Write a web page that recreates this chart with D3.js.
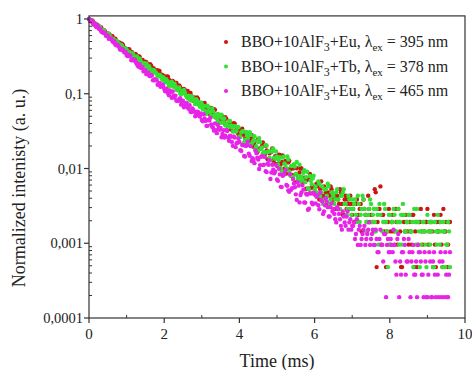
<!DOCTYPE html>
<html><head><meta charset="utf-8">
<script src="https://cdn.jsdelivr.net/npm/d3@7/dist/d3.min.js"></script>
<style>body{margin:0;background:#fff}svg{display:block}text{font-family:"Liberation Serif","Times New Roman",serif}</style>
</head><body>
<svg id="chart" width="472" height="370"></svg>
<script>
// ---- data: normalized intensity sampled every timeStepMs from t = 0 (null = zero counts) ----
const timeStepMs = 0.025;
const eu395 = [
1.000,0.959,0.935,0.964,0.940,0.895,0.868,0.817,0.809,0.832,0.807,0.769,0.759,0.772,0.714,0.689,0.708,0.686,0.640,0.617,0.637,0.634,0.615,0.586,0.569,0.589,0.536,0.525,0.543,0.518,0.498,0.472,0.485,0.476,0.449,0.468,0.452,0.421,0.403,0.394,0.399,
0.379,0.393,0.392,0.353,0.361,0.356,0.322,0.319,0.340,0.335,0.310,0.305,0.319,0.311,0.277,0.277,0.283,0.259,0.248,0.269,0.265,0.249,0.242,0.232,0.249,0.240,0.216,0.218,0.218,0.202,0.195,0.206,0.203,0.204,0.202,0.182,0.177,0.179,0.165,0.172,
0.160,0.154,0.171,0.169,0.154,0.148,0.133,0.133,0.148,0.144,0.132,0.132,0.140,0.1215,0.116,0.129,0.122,0.1066,0.102,0.114,0.1156,0.1123,0.103,0.0991,0.109,0.0915,0.0908,0.1026,0.0935,0.0880,0.0807,0.0891,0.0877,0.0786,0.0893,0.0849,0.0748,0.0689,0.0688,0.0731,
0.0668,0.0744,0.0755,0.0612,0.0661,0.0665,0.0546,0.0540,0.0645,0.0645,0.0556,0.0546,0.0619,0.0609,0.0481,0.0488,0.0527,0.0442,0.0416,0.0514,0.0507,0.0453,0.0437,0.0406,0.0487,0.0465,0.0378,0.0394,0.0403,0.0347,0.0332,0.0387,0.0381,0.0403,0.0399,0.0323,0.0315,0.0331,0.0284,0.0318,
0.0276,0.0328,0.0340,0.0284,0.0284,0.0250,0.0216,0.0301,0.0286,0.0207,0.0233,0.0255,0.0282,0.0260,0.0195,0.0207,0.0231,0.0182,0.0164,0.0248,0.0227,0.0186,0.0185,0.0201,0.0223,0.0160,0.0155,0.0201,0.0175,0.0133,0.0133,0.0160,0.0168,0.0166,0.0185,0.0127,0.0131,0.0146,0.0115,0.0109,
0.0115,0.0153,0.0152,0.0115,0.0122,0.0149,0.00867,0.00995,0.0126,0.00854,0.00982,0.0121,0.0127,0.00978,0.00800,0.00817,0.0100,0.0112,0.00652,0.00838,0.0101,0.00680,0.00783,0.00883,0.0101,0.00999,0.00638,0.00668,0.00755,0.00735,0.00536,0.00705,0.00736,0.00541,0.00843,0.00785,0.00548,0.00571,0.00466,0.00451,
0.0048,0.00624,0.00576,0.00432,0.00384,0.00528,0.00672,0.00384,0.00432,0.00576,0.00528,0.0048,0.00336,0.00336,0.0048,0.00432,0.00576,0.00528,0.00384,0.00384,
0.00432,0.00288,0.00288,0.00432,0.00384,0.00336,0.00528,0.0048,0.00336,0.0024,0.0024,0.00384,0.00432,0.00288,0.00384,0.00336,0.00288,0.00432,0.00336,0.0024,
0.00288,0.00192,0.00192,0.00336,0.00384,0.0024,0.0024,0.00288,0.00336,0.00144,0.00144,0.00384,0.00288,0.0024,0.0024,0.00192,0.00432,0.00288,0.00192,0.0024,
0.0024,0.00192,0.00144,0.00528,0.0048,0.00048,0.00192,0.00288,0.00288,0.00576,0.00096,0.0024,0.0024,0.00144,0.00192,0.00048,0.00144,0.00192,0.00288,0.00096,
0.00144,0.00192,0.0024,0.00144,0.00096,0.00288,0.00192,0.00096,0.00288,0.00192,0.00144,0.00048,0.00048,0.0024,0.00192,0.00144,0.0024,0.00192,0.00144,0.00096,
0.00192,0.00144,0.00096,0.0024,0.0024,0.00048,0.00144,0.00192,0.00048,0.00096,0.00192,0.00192,0.00288,0.00144,0.00096,null,0.00144,0.00192,0.00192,0.00288,
0.00096,0.00144,0.00192,0.00192,0.00144,0.00048,0.0024,0.00096,0.00048,0.00192,0.00144,0.00144,0.00192,0.0024,0.00096,0.00048,0.00288,0.00144,0.00144,0.00192,0.00048,0.00096,0.00192,0.00192
];
const tb378 = [
1.000,0.950,0.973,0.943,0.898,0.846,0.844,0.868,0.853,0.801,0.780,0.799,0.759,0.714,0.701,0.702,0.698,0.639,0.625,0.643,0.619,0.630,0.598,0.566,0.548,0.529,0.539,0.511,0.493,0.512,0.496,0.475,0.458,0.432,0.453,0.439,0.413,0.405,0.388,0.404,0.388,
0.356,0.363,0.363,0.338,0.317,0.348,0.339,0.316,0.308,0.292,0.316,0.297,0.274,0.294,0.275,0.261,0.245,0.257,0.255,0.245,0.254,0.224,0.222,0.234,0.207,0.211,0.202,0.194,0.208,0.200,0.191,0.185,0.170,0.173,0.179,0.176,0.163,0.154,0.167,0.158,
0.143,0.157,0.150,0.139,0.126,0.129,0.143,0.145,0.128,0.124,0.136,0.126,0.113,0.1115,0.117,0.121,0.101,0.0983,0.110,0.1045,0.112,0.1041,0.0944,0.0904,0.0870,0.0943,0.0863,0.0811,0.0929,0.0903,0.0838,0.0798,0.0726,0.0848,0.0806,0.0723,0.0720,0.0669,0.0767,0.0731,
0.0619,0.0683,0.0681,0.0587,0.0538,0.0694,0.0658,0.0581,0.0569,0.0507,0.0634,0.0582,0.0494,0.0522,0.0527,0.0474,0.0436,0.0530,0.0501,0.0408,0.0526,0.0463,0.0416,0.0466,0.0377,0.0393,0.0378,0.0357,0.0428,0.0434,0.0376,0.0353,0.0311,0.0369,0.0368,0.0313,0.0318,0.0359,0.0356,0.0269,
0.0264,0.0303,0.0312,0.0316,0.0222,0.0242,0.0308,0.0280,0.0252,0.0210,0.0305,0.0281,0.0212,0.0224,0.0239,0.0270,0.0182,0.0198,0.0231,0.0175,0.0255,0.0225,0.0182,0.0191,0.0159,0.0165,0.0164,0.0207,0.0202,0.0166,0.0169,0.0140,0.0129,0.0169,0.0171,0.0184,0.0140,0.0135,0.0169,0.0144,
0.0113,0.0129,0.0142,0.0102,0.00925,0.0140,0.0144,0.0117,0.0112,0.0101,0.0145,0.0132,0.00914,0.00812,0.0108,0.0109,0.00771,0.0113,0.0106,0.00849,0.0122,0.00730,0.00794,0.0112,0.00676,0.00774,0.00711,0.00877,0.00949,0.00657,0.00762,0.00904,0.00542,0.00528,0.00793,0.00687,0.00617,0.00737,0.00800,0.00522,
0.00576,0.0048,0.00432,0.00672,0.00624,0.00432,0.0048,0.00576,0.00336,0.00384,0.00528,0.00528,0.00432,0.00624,0.00576,0.00336,0.00384,0.0048,0.0048,0.00432,
0.00336,0.00384,0.0048,0.00528,0.00384,0.00288,0.00288,0.00432,0.00432,0.0048,0.00528,0.00336,0.00336,0.0024,0.00288,0.00432,0.00384,0.00288,0.0024,0.00384,
0.00288,0.00336,0.00384,0.0024,0.00192,0.00432,0.00336,0.00192,0.0024,0.00288,0.00432,0.00384,0.00288,0.0024,0.00192,0.00144,0.0024,0.00288,0.00384,0.00336,
0.00192,0.0024,0.00288,0.00192,0.00144,0.00288,0.0024,0.00096,0.00336,0.0024,0.00096,0.00144,0.00192,0.00336,0.00288,0.00192,0.00144,0.00048,0.0024,0.0024,
0.00096,0.00192,0.00192,0.00288,0.0024,0.00144,0.00144,0.00192,0.00288,0.00096,0.00192,0.0024,0.00096,0.00336,0.0024,0.00144,0.00144,0.00192,0.00192,0.0024,
0.0024,0.00144,0.00144,0.00192,0.00048,0.00288,0.00192,0.00096,0.00288,0.00192,0.00144,0.00048,0.00096,0.00144,0.00192,0.00192,0.00144,0.00096,0.00048,0.0024,
0.00144,0.00192,0.00096,0.00144,0.00192,0.00048,0.00048,0.00192,0.00144,0.00096,0.0024,0.00144,0.00096,0.00192,0.00144,0.00048,0.00192,0.00144,0.00048,0.00096,0.00096,0.00192,0.00144,0.00048
];
const eu465 = [
1.000,0.951,0.961,0.930,0.882,0.842,0.874,0.844,0.778,0.821,0.766,0.732,0.736,0.681,0.670,0.654,0.656,0.652,0.595,0.601,0.596,0.544,0.548,0.549,0.539,0.504,0.488,0.500,0.456,0.444,0.454,0.438,0.421,0.391,0.391,0.399,0.388,0.366,0.357,0.363,0.330,
0.319,0.330,0.317,0.326,0.281,0.283,0.289,0.278,0.286,0.263,0.248,0.237,0.229,0.249,0.222,0.221,0.227,0.199,0.206,0.206,0.183,0.190,0.191,0.175,0.172,0.178,0.175,0.152,0.151,0.156,0.152,0.151,0.132,0.134,0.140,0.124,0.126,0.133,0.128,0.116,
0.108,0.117,0.112,0.102,0.0957,0.111,0.105,0.0885,0.1076,0.0948,0.0887,0.0945,0.0809,0.0806,0.0802,0.0846,0.0869,0.0715,0.0776,0.0806,0.0661,0.0702,0.0743,0.0752,0.0655,0.0629,0.0703,0.0576,0.0571,0.0638,0.0607,0.0573,0.0499,0.0520,0.0574,0.0569,0.0506,0.0496,0.0543,0.0445,
0.0428,0.0531,0.0467,0.0433,0.0372,0.0372,0.0446,0.0440,0.0478,0.0389,0.0361,0.0350,0.0321,0.0401,0.0326,0.0297,0.0383,0.0346,0.0329,0.0348,0.0262,0.0289,0.0326,0.0260,0.0275,0.0328,0.0317,0.0259,0.0235,0.0274,0.0266,0.0227,0.0201,0.0269,0.0259,0.0193,0.0218,0.0221,0.0252,0.0226,
0.0176,0.0172,0.0207,0.0205,0.0147,0.0145,0.0200,0.0207,0.0229,0.0158,0.0148,0.0199,0.0126,0.0137,0.0131,0.0118,0.0174,0.0161,0.0139,0.0132,0.00984,0.0111,0.0143,0.0147,0.0111,0.0112,0.0143,0.00919,0.00895,0.0116,0.0112,0.0129,0.00724,0.00885,0.0112,0.00962,0.00865,0.00914,0.0111,0.00714,
0.00684,0.00992,0.00834,0.00568,0.00564,0.00800,0.00817,0.00843,0.00959,0.00602,0.00586,0.00507,0.00488,0.00838,0.00518,0.00545,0.00723,0.00631,0.00562,0.00451,0.00380,0.00657,0.00590,0.00352,0.00443,0.00479,0.00598,0.00521,0.00352,0.00349,0.00460,0.00447,0.00281,0.00290,0.00467,0.00464,0.00350,0.00332,0.00473,0.00453,
0.00342,0.00418,0.00437,0.00323,0.00285,0.00475,0.0038,0.00361,0.00247,0.00266,0.00323,0.00399,0.00361,0.00304,0.00228,0.00228,0.00304,0.00342,0.00266,0.00285,
0.00247,0.00209,0.0019,0.00304,0.00285,0.00247,0.00209,0.00171,0.00152,0.00266,0.00228,0.0019,0.00171,0.00228,0.00266,0.00152,0.0019,0.00209,0.00152,0.00171,
0.00171,0.0019,0.00114,0.00133,0.00209,0.00095,0.00152,0.00171,0.00095,0.00114,0.00133,0.00152,0.00171,0.00095,0.00114,0.00133,0.00152,0.0019,0.00095,0.00114,
0.00133,0.00152,0.00095,0.00095,0.00152,0.00114,0.00076,0.00076,0.00114,0.00152,0.00095,0.00095,0.00057,0.00133,0.00133,0.00019,0.00095,0.00114,0.00076,0.00076,
0.00114,0.00095,0.00076,0.00152,0.00095,0.00057,0.00038,0.00114,0.00133,0.00019,0.00057,0.00038,0.00076,0.00076,0.00114,0.00095,0.00038,0.00057,0.00057,0.00114,
0.00076,0.00019,0.00057,0.00076,0.00095,0.00038,0.00038,0.00057,0.00019,0.00095,0.00076,0.00076,0.00057,0.00038,0.00038,0.00019,0.00076,0.00057,0.00019,0.00019,
0.00038,0.00076,0.00057,0.00019,0.00019,0.00057,0.00076,0.00038,0.00019,null,0.00038,0.00019,0.00057,0.00076,0.00019,0.00057,null,0.00019,0.00076,0.00038,0.00019,0.00019,0.00038,0.00076
];
const seriesCompound = ["Eu", "Tb", "Eu"];
const seriesWavelength = [395, 378, 465];
const xTicks = [0, 2, 4, 6, 8, 10];
const xMinorTicks = [1, 3, 5, 7, 9];
const yTicks = [1, 0.1, 0.01, 0.001, 0.0001];
const yTickLabels = ["1", "0,1", "0,01", "0,001", "0,0001"];
const xTitle = "Time (ms)";
const yTitle = "Normalized intenisty (a. u.)";

// ---- styles / layout ----
const colors = ["#cc1414", "#33e033", "#e824e8"];
const font = '"Liberation Serif","Times New Roman",serif';
const svg = d3.select("#chart");
const L = 89, R = 465, B = 318;
const x = d3.scaleLinear().domain([0, 10]).range([L, R]);
const y = d3.scaleLog().domain([1e-4, 1]).range([B, 19]);
const T = y(1.1);

const series = [eu395, tb378, eu465].map((vals, s) => ({
  color: colors[s],
  pts: vals.map((v, i) => ({t: i * timeStepMs, v})).filter(d => d.v != null)
}));

series.forEach(s => {
  svg.append("g").selectAll("circle").data(s.pts).join("circle")
    .attr("cx", d => x(d.t)).attr("cy", d => y(d.v))
    .attr("r", 2.2).attr("fill", s.color);
});

svg.append("rect").attr("x", L).attr("y", T).attr("width", R - L).attr("height", B - T)
  .attr("fill", "none").attr("stroke", "#333").attr("stroke-width", 1.2);

const axisColor = "#333";
const gx = svg.append("g");
xTicks.forEach(t => {
  gx.append("line").attr("x1", x(t)).attr("x2", x(t)).attr("y1", B).attr("y2", B + 5)
    .attr("stroke", axisColor).attr("stroke-width", 1.2);
  gx.append("text").attr("x", x(t)).attr("y", B + 21).attr("text-anchor", "middle")
    .style("font-family", font).attr("font-size", 15).attr("fill", "#222").text(t);
});
xMinorTicks.forEach(t => {
  gx.append("line").attr("x1", x(t)).attr("x2", x(t)).attr("y1", B).attr("y2", B - 3)
    .attr("stroke", axisColor).attr("stroke-width", 1);
});
const gy = svg.append("g");
yTicks.forEach((t, i) => {
  gy.append("line").attr("x1", L - 5).attr("x2", L).attr("y1", y(t)).attr("y2", y(t))
    .attr("stroke", axisColor).attr("stroke-width", 1.2);
  gy.append("text").attr("x", L - 6).attr("y", y(t) + 5).attr("text-anchor", "end")
    .style("font-family", font).attr("font-size", 14.5).attr("fill", "#222").text(yTickLabels[i]);
});
y.ticks().filter(t => yTicks.indexOf(t) < 0).forEach(t => {
  gy.append("line").attr("x1", L).attr("x2", L + 3).attr("y1", y(t)).attr("y2", y(t))
    .attr("stroke", axisColor).attr("stroke-width", 1);
});

svg.append("text").attr("x", (L + R) / 2).attr("y", 367).attr("text-anchor", "middle")
  .style("font-family", font).attr("font-size", 18).attr("fill", "#222").text(xTitle);
svg.append("text").attr("transform", "translate(25,188) rotate(-90)").attr("text-anchor", "middle")
  .style("font-family", font).attr("font-size", 18).attr("fill", "#222").text(yTitle);

const leg = svg.append("g");
seriesCompound.forEach((c, i) => {
  const yy = 42 + i * 24.5;
  leg.append("circle").attr("cx", 226).attr("cy", yy).attr("r", 2).attr("fill", colors[i]);
  const tx = leg.append("text").attr("x", 241).attr("y", yy + 5)
    .style("font-family", font).attr("font-size", 16).attr("fill", "#222");
  tx.append("tspan").text("BBO+10AlF");
  tx.append("tspan").attr("dy", 4).attr("font-size", 12).text("3");
  tx.append("tspan").attr("dy", -4).text("+" + c + ", λ");
  tx.append("tspan").attr("dy", 4).attr("font-size", 11).text("ex");
  tx.append("tspan").attr("dy", -4).text(" = " + seriesWavelength[i] + " nm");
});
</script>
</body></html>
